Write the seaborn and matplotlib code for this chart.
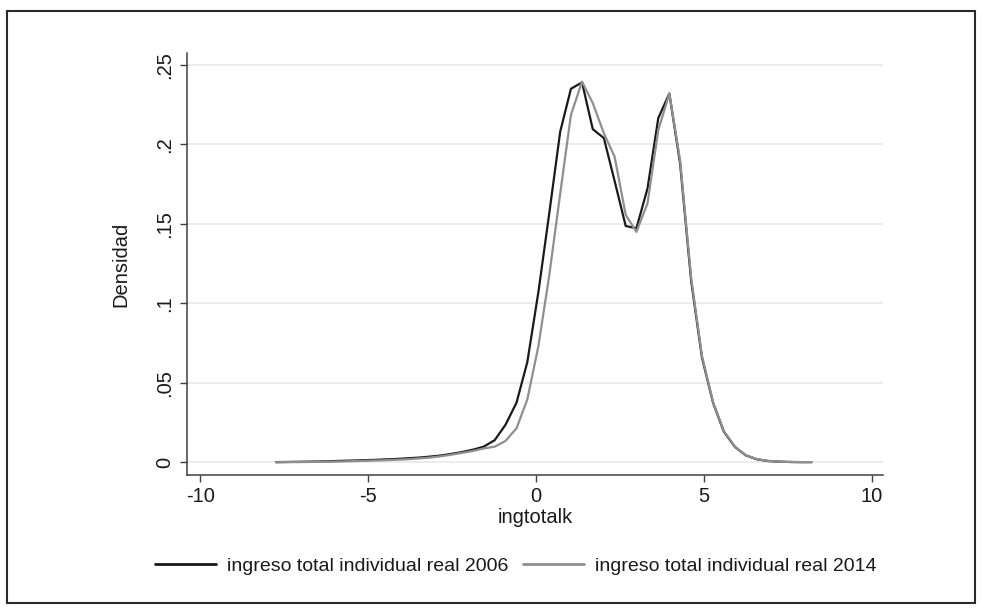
import numpy as np
import pandas as pd
import seaborn as sns
import matplotlib
matplotlib.use("Agg")
import matplotlib.pyplot as plt
from matplotlib.patches import Rectangle

# ---- data ----
grid = [-7.74, -7.41, -7.09, -6.76, -6.44, -6.11, -5.79, -5.46, -5.14, -4.81,
        -4.49, -4.16, -3.84, -3.51, -3.19, -2.86, -2.54, -2.21, -1.88, -1.56,
        -1.23, -0.91, -0.58, -0.26, 0.07, 0.39, 0.72, 1.04, 1.37, 1.69,
        2.02, 2.34, 2.67, 2.99, 3.32, 3.64, 3.97, 4.29, 4.62, 4.94,
        5.27, 5.59, 5.92, 6.24, 6.57, 6.90, 7.22, 7.55, 7.87, 8.20]

dens_2006 = [0.0002, 0.0003, 0.0004, 0.0005, 0.0006, 0.0008, 0.0010, 0.0012, 0.0014, 0.0016,
             0.0019, 0.0022, 0.0026, 0.0030, 0.0036, 0.0043, 0.0053, 0.0065, 0.0080, 0.0099,
             0.0140, 0.0236, 0.0376, 0.0630, 0.1070, 0.1560, 0.2080, 0.2350, 0.2390, 0.2096,
             0.2040, 0.1770, 0.1487, 0.1473, 0.1724, 0.2165, 0.2320, 0.1880, 0.1140, 0.0660,
             0.0376, 0.0194, 0.0098, 0.0045, 0.0020, 0.0009, 0.0005, 0.0003, 0.0002, 0.0002]

dens_2014 = [0.0001, 0.0002, 0.0002, 0.0003, 0.0004, 0.0005, 0.0006, 0.0008, 0.0010, 0.0012,
             0.0014, 0.0017, 0.0020, 0.0025, 0.0030, 0.0038, 0.0048, 0.0060, 0.0072, 0.0088,
             0.0099, 0.0135, 0.0215, 0.0395, 0.0730, 0.1170, 0.1690, 0.2186, 0.2395, 0.2260,
             0.2070, 0.1923, 0.1557, 0.1450, 0.1630, 0.2090, 0.2320, 0.1900, 0.1160, 0.0670,
             0.0380, 0.0198, 0.0100, 0.0046, 0.0021, 0.0010, 0.0005, 0.0003, 0.0002, 0.0002]

series_labels = ["ingreso total individual real 2006", "ingreso total individual real 2014"]
series_colors = ["#1a1a1a", "#8f8f8f"]

x_ticks = [-10, -5, 0, 5, 10]
x_ticklabels = ["-10", "-5", "0", "5", "10"]
y_ticks = [0, 0.05, 0.10, 0.15, 0.20, 0.25]
y_ticklabels = ["0", ".05", ".1", ".15", ".2", ".25"]

df = pd.concat([
    pd.DataFrame({"x": grid, "d": dens_2006, "serie": series_labels[0]}),
    pd.DataFrame({"x": grid, "d": dens_2014, "serie": series_labels[1]}),
], ignore_index=True)

# ---- style ----
sns.set_style("white")
plt.rcParams["font.family"] = ["Liberation Sans", "DejaVu Sans"]
FS = 14.5
FS_LEG = 14

fig = plt.figure(figsize=(9.82, 6.10), dpi=100)
ax = fig.add_axes([187 / 982, 1 - 475 / 610, (883 - 187) / 982, (475 - 53) / 610])

sns.lineplot(data=df, x="x", y="d", hue="serie", palette=dict(zip(series_labels, series_colors)),
             hue_order=series_labels, linewidth=1.6, ax=ax, legend=False, sort=False,
             estimator=None)

ax.set_xlim(-10.39, 10.33)
ax.set_ylim(-0.0079, 0.2575)

for y in y_ticks:
    ax.axhline(y, color="#ececec", linewidth=1.4, zorder=0)

ax.set_xticks(x_ticks)
ax.set_xticklabels(x_ticklabels, fontsize=FS, color="#1a1a1a")
ax.set_yticks(y_ticks)
ax.set_yticklabels(y_ticklabels, fontsize=FS, rotation=90, va="center", color="#1a1a1a")
ax.tick_params(axis="both", direction="out", length=5, width=1.0, color="#404040",
               bottom=True, left=True, pad=4)

for s in ["top", "right"]:
    ax.spines[s].set_visible(False)
for s in ["left", "bottom"]:
    ax.spines[s].set_color("#404040")
    ax.spines[s].set_linewidth(1.1)

ax.set_xlabel("ingtotalk", fontsize=FS, color="#1a1a1a", labelpad=1)
ax.set_ylabel("Densidad", fontsize=FS, color="#1a1a1a", labelpad=18)

handles = [plt.Line2D([], [], color=c, linewidth=2.0) for c in series_colors]
fig.legend(handles, series_labels, loc="center", bbox_to_anchor=(516 / 982, 1 - 566 / 610),
           ncol=2, frameon=False, fontsize=FS_LEG, handlelength=3.1, handletextpad=0.6,
           columnspacing=0.75, labelcolor="#1a1a1a")

fig.patches.append(Rectangle((7 / 982, 1 - 603 / 610), (975 - 7) / 982, (603 - 11) / 610,
                             transform=fig.transFigure, fill=False, edgecolor="#2a2a2a",
                             linewidth=1.5))

fig.savefig("out.png", dpi=100)
